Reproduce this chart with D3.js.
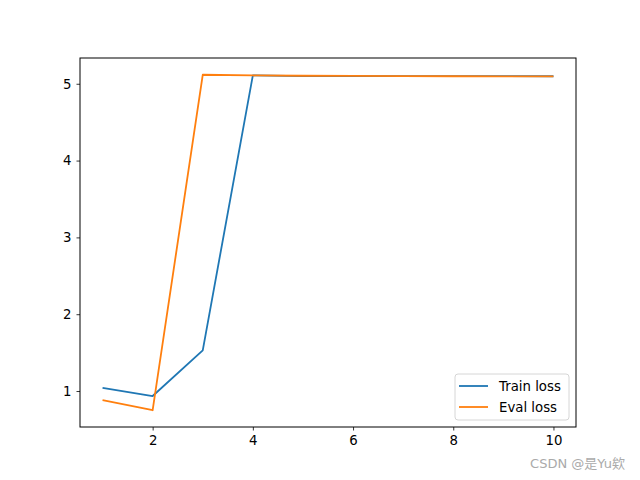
<!DOCTYPE html>
<html>
<head>
  <meta charset="utf-8">
  <style>
    body { margin: 0; background: #fff; }
    svg { display: block; font-family: "DejaVu Sans", sans-serif; }
  </style>
  <script src="https://d3js.org/d3.v7.min.js"></script>
</head>
<body>
  <svg id="chart" width="640" height="480"></svg>
  <script>
    // data
    const epochs = [1, 2, 3, 4, 5, 6, 7, 8, 9, 10];
    const trainLoss = [1.04, 0.935, 1.53, 5.11, 5.10, 5.10, 5.10, 5.10, 5.10, 5.098];
    const evalLoss = [0.88, 0.75, 5.117, 5.108, 5.104, 5.102, 5.10, 5.098, 5.097, 5.095];
    const xTicks = [2, 4, 6, 8, 10];
    const yTicks = [1, 2, 3, 4, 5];
    const seriesNames = ["Train loss", "Eval loss"];
    const colors = ["#1f77b4", "#ff7f0e"];

    const margin = { top: 58, right: 64, bottom: 53, left: 80 };
    const width = 640 - margin.left - margin.right;
    const height = 480 - margin.top - margin.bottom;

    const svg = d3.select("#chart");
    const g = svg.append("g")
      .attr("transform", "translate(" + margin.left + "," + margin.top + ")");

    // matplotlib-style 5% margins
    const allY = trainLoss.concat(evalLoss);
    const yMin = d3.min(allY), yMax = d3.max(allY);
    const yPad = (yMax - yMin) * 0.05;
    const xPad = (d3.max(epochs) - d3.min(epochs)) * 0.05;

    const x = d3.scaleLinear()
      .domain([d3.min(epochs) - xPad, d3.max(epochs) + xPad])
      .range([0, width]);
    const y = d3.scaleLinear()
      .domain([yMin - yPad, yMax + yPad])
      .range([height, 0]);

    const line = d3.line()
      .x(function (d) { return x(d.e); })
      .y(function (d) { return y(d.v); });

    const series = [trainLoss, evalLoss].map(function (vals, i) {
      return { name: seriesNames[i], color: colors[i], values: vals.map(function (v, j) { return { e: epochs[j], v: v }; }) };
    });

    g.selectAll(".series")
      .data(series)
      .enter()
      .append("path")
      .attr("class", "series")
      .attr("d", function (d) { return line(d.values); })
      .attr("fill", "none")
      .attr("stroke", function (d) { return d.color; })
      .attr("stroke-width", 1.8)
      .attr("stroke-linejoin", "round");

    // axes
    const xAxis = g.append("g")
      .attr("transform", "translate(0," + height + ")")
      .call(d3.axisBottom(x).tickValues(xTicks).tickSize(3.5).tickPadding(5).tickFormat(d3.format("d")));
    const yAxis = g.append("g")
      .call(d3.axisLeft(y).tickValues(yTicks).tickSize(3.5).tickPadding(5).tickFormat(d3.format("d")));
    [xAxis, yAxis].forEach(function (a) {
      a.select(".domain").remove();
      a.selectAll("line").attr("stroke", "#000").attr("stroke-width", 0.8);
      a.selectAll("text").attr("font-size", 13.3).attr("fill", "#000")
        .attr("font-family", "DejaVu Sans, sans-serif");
    });

    // frame
    g.append("rect")
      .attr("x", 0).attr("y", 0)
      .attr("width", width).attr("height", height)
      .attr("fill", "none").attr("stroke", "#000").attr("stroke-width", 1);

    // legend
    const legend = g.append("g")
      .attr("transform", "translate(" + (width - 121) + "," + (height - 53) + ")");
    legend.append("rect")
      .attr("width", 114).attr("height", 46)
      .attr("rx", 3)
      .attr("fill", "#fff").attr("fill-opacity", 0.8)
      .attr("stroke", "#ccc").attr("stroke-width", 0.8);
    const items = legend.selectAll(".item")
      .data(series)
      .enter()
      .append("g")
      .attr("transform", function (d, i) { return "translate(0," + (12 + i * 21) + ")"; });
    items.append("line")
      .attr("x1", 4).attr("x2", 33)
      .attr("stroke", function (d) { return d.color; })
      .attr("stroke-width", 1.8);
    items.append("text")
      .attr("x", 44).attr("y", 0)
      .attr("dy", "0.35em")
      .attr("font-size", 13.3)
      .text(function (d) { return d.name; });

    // watermark
    svg.append("text")
      .attr("x", 625).attr("y", 468)
      .attr("text-anchor", "end")
      .attr("font-size", 13)
      .attr("fill", "#aaa")
      .attr("font-family", "DejaVu Sans, 'Noto Sans CJK SC', sans-serif")
      .text("CSDN @是Yu欸");
  </script>
</body>
</html>
